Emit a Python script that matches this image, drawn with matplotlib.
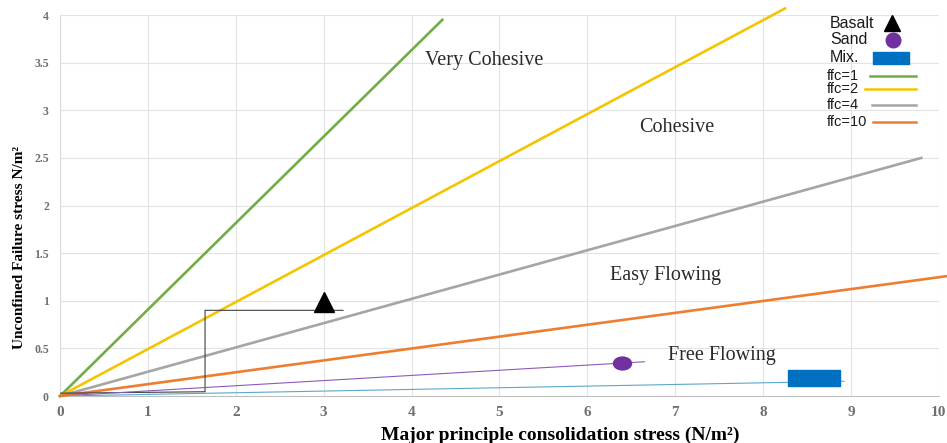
import matplotlib.pyplot as plt
from matplotlib.lines import Line2D
from matplotlib.path import Path
import numpy as np

# ffc boundary lines (start, end)
ffc_names = ['ffc=1', 'ffc=2', 'ffc=4', 'ffc=10']
ffc_x = [[0, 4.35], [0, 8.25], [0, 9.8], [0, 10.1]]
ffc_y = [[0, 3.95], [0, 4.07], [0, 2.5], [0, 1.26]]
ffc_colors = ['#70AD47', '#F5C400', '#A5A5A5', '#ED7D31']

# materials
basalt_x = [0, 1.65, 1.65, 3.22]
basalt_y = [0.03, 0.045, 0.9, 0.9]
basalt_pt = (3.0, 0.99)
sand_x = [0, 6.65]
sand_y = [0, 0.36]
sand_pt = (6.4, 0.35)
mix_x = [0, 8.92]
mix_y = [0, 0.155]
mix_pt = (8.58, 0.19)

regions = ['Very Cohesive', 'Cohesive', 'Easy Flowing', 'Free Flowing']
region_x = [4.83, 7.02, 6.89, 7.53]
region_y = [3.52, 2.82, 1.27, 0.43]

W, H = 947, 443
circ = Path.unit_circle()
ellipse = Path(circ.vertices * np.array([1.4, 1.0]), circ.codes)
rect = [(-1.6, -0.5), (1.6, -0.5), (1.6, 0.5), (-1.6, 0.5), (-1.6, -0.5)]

fig = plt.figure(figsize=(W / 100, H / 100), dpi=100)
ax = fig.add_axes([0.0634, 0.106, 0.928, 0.86])
serif = 'Liberation Serif'
sans = 'Liberation Sans'

for xs, ys, c in zip(ffc_x, ffc_y, ffc_colors):
    ax.plot(xs, ys, color=c, lw=1.9, clip_on=False, zorder=3)

ax.plot(basalt_x, basalt_y, color='#404040', lw=0.8, zorder=3)
ax.plot(*basalt_pt, marker='^', color='black', ms=15, ls='none', zorder=4)
ax.plot(sand_x, sand_y, color='#8E5BB8', lw=0.8, zorder=3)
ax.plot(*sand_pt, marker=ellipse, color='#7030A0', ms=13, ls='none', zorder=4)
ax.plot(mix_x, mix_y, color='#5BA8C8', lw=0.8, zorder=3)
ax.plot(*mix_pt, marker=rect, color='#0070C0', ms=38, ls='none', zorder=4)

for t, x, y in zip(regions, region_x, region_y):
    ax.text(x, y, t, ha='center', va='center', fontsize=14.5, family=serif, color='#2a2a2a')

ax.set_xlim(0, 10)
ax.set_ylim(0, 4)
ax.set_xticks(range(0, 11))
ax.set_yticks(np.arange(0, 4.01, 0.5))
ax.set_yticklabels(['0', '0.5', '1', '1.5', '2', '2.5', '3', '3.5', '4'])
ax.grid(True, color='#E3E3E3', lw=0.8)
ax.set_axisbelow(True)
ax.tick_params(length=0, labelcolor='#6f6f6f')
ax.tick_params(axis='y', labelsize=8.5, pad=8)
ax.tick_params(axis='x', labelsize=11, pad=7)
for lab in ax.get_xticklabels() + ax.get_yticklabels():
    lab.set_family(serif)
    lab.set_fontweight('bold')
for s in ['top', 'right']:
    ax.spines[s].set_visible(False)
ax.spines['left'].set_color('#D9D9D9')
ax.spines['bottom'].set_color('#BFBFBF')

ax.set_xlabel('Major principle consolidation stress (N/m²)', family=serif,
              fontweight='bold', fontsize=14)
ax.set_ylabel('Unconfined Failure stress N/m²', family=serif,
              fontweight='bold', fontsize=11)
ax.xaxis.label.set_va('center')
ax.xaxis.set_label_coords(0.569, -0.102)
ax.yaxis.label.set_va('center')
ax.yaxis.set_label_coords(-0.046, 0.39)


# legend drawn by hand in pixel positions of the reference
def fx(px):
    return px / W


def fy(py):
    return 1 - py / H


leg_labels = ['Basalt', 'Sand', 'Mix.'] + ffc_names
leg_y = [23, 40, 58, 76, 89, 105, 122]
leg_tx = [830, 830, 830, 827, 827, 827, 827]
for i, (lab, py, px) in enumerate(zip(leg_labels, leg_y, leg_tx)):
    fig.text(fx(px), fy(py), lab, ha='left', va='center', family=sans,
             fontsize=11.5 if i < 3 else 10.5, color='#1a1a1a')

fig.add_artist(Line2D([fx(892)], [fy(23)], marker='^', color='black', ms=11, ls='none'))
fig.add_artist(Line2D([fx(893)], [fy(40)], marker='o', color='#7030A0', ms=10.5, ls='none'))
fig.add_artist(Line2D([fx(891)], [fy(58)], marker=rect, color='#0070C0', ms=26, ls='none'))
line_x0 = [870, 865, 872, 873]
for c, py, x0 in zip(ffc_colors, leg_y[3:], line_x0):
    fig.add_artist(Line2D([fx(x0), fx(916)], [fy(py), fy(py)], color=c, lw=1.8))

fig.savefig('out.png', dpi=100)
